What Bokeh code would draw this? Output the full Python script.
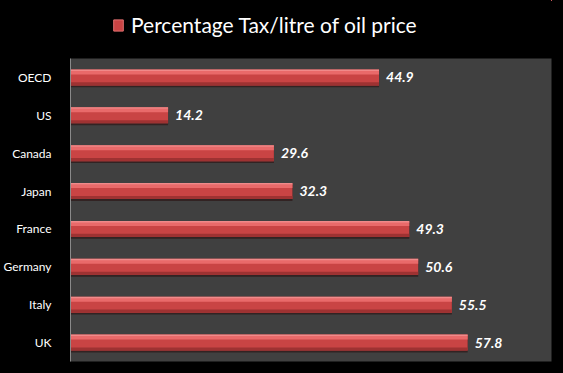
from bokeh.plotting import figure
from bokeh.layouts import column
from bokeh.models import FactorRange, Range1d, Legend, LegendItem, ColumnDataSource, GlobalInlineStyleSheet
from bokeh.transform import dodge
from bokeh.core.properties import value
from bokeh.embed import file_html
from bokeh.resources import INLINE

countries = ["OECD", "US", "Canada", "Japan", "France", "Germany", "Italy", "UK"]
tax_pct = [44.9, 14.2, 29.6, 32.3, 49.3, 50.6, 55.5, 57.8]
series_name = "Percentage Tax/litre of oil price"

factors = list(reversed(countries))
src = ColumnDataSource(dict(cat=countries, val=tax_pct,
                            lbl=[f"{v:.1f}" for v in tax_pct]))

# ---- header with legend (series glyph kept outside the header's visible range) ----
hdr = figure(width=563, height=58, x_range=Range1d(0, 1), y_range=Range1d(0, 1),
             x_axis_location=None, y_axis_location=None,
             min_border_left=0, min_border_right=0, min_border_top=0, min_border_bottom=0,
             output_backend="svg", toolbar_location=None)
hdr.background_fill_color = "black"
hdr.border_fill_color = "black"
hdr.outline_line_color = None
hdr.grid.visible = False
leg_r = hdr.hbar(y="val", right="val", left="val", height=0.5, source=src,
                 fill_color="#c94444", line_color="#e07070", line_width=1)
legend = Legend(items=[LegendItem(label=series_name, renderers=[leg_r])],
                location=(42, 21), orientation="horizontal",
                label_text_color="white", label_text_font="Lato",
                label_text_font_size="21px", glyph_width=12, glyph_height=14,
                background_fill_alpha=0, border_line_alpha=0,
                margin=0, padding=0, label_standoff=7)
hdr.add_layout(legend, "center")

# ---- main chart ----
p = figure(y_range=FactorRange(*factors), x_range=Range1d(0, 70),
           width=563, height=315,
           min_border_left=66, min_border_right=12, min_border_top=0, min_border_bottom=12,
           output_backend="svg", toolbar_location=None)
p.background_fill_color = "#404040"
p.border_fill_color = "black"
p.outline_line_color = None
p.xgrid.visible = False
p.ygrid.visible = False
p.xaxis.visible = False

yr = p.y_range
p.hbar(y=dodge("cat", -0.05, range=yr), right="val", left=0, height=0.42, source=src,
       fill_color="#2e1c1c", line_color=None, fill_alpha=0.8)
main = p.hbar(y="cat", right="val", left=0, height=0.42, source=src,
              fill_color="#c94444", line_color=None)
p.hbar(y=dodge("cat", -0.17, range=yr), right="val", left=0, height=0.08, source=src,
       fill_color="#9e3232", line_color=None)
p.hbar(y=dodge("cat", 0.13, range=yr), right="val", left=0, height=0.1, source=src,
       fill_color="#e96a6a", line_color=None)
p.hbar(y=dodge("cat", 0.19, range=yr), right="val", left=0, height=0.04, source=src,
       fill_color="#f08a8a", line_color=None)

p.text(x="val", y="cat", text="lbl", source=src, x_offset=7,
       text_baseline="middle", text_align="left", text_color="white",
       text_font=value("Lato"), text_font_style="bold italic", text_font_size="14px")

ax = p.yaxis[0]
ax.axis_line_color = "#8a8a8a"
ax.major_tick_line_color = None
ax.minor_tick_line_color = None
ax.major_label_text_color = "white"
ax.major_label_text_font = "Lato"
ax.major_label_text_font_size = "12px"
ax.major_label_standoff = 13

layout = column(hdr, p, spacing=0)
layout.stylesheets = [GlobalInlineStyleSheet(css="body{background:black;}")]

open("out.html", "w").write(file_html(layout, INLINE))
